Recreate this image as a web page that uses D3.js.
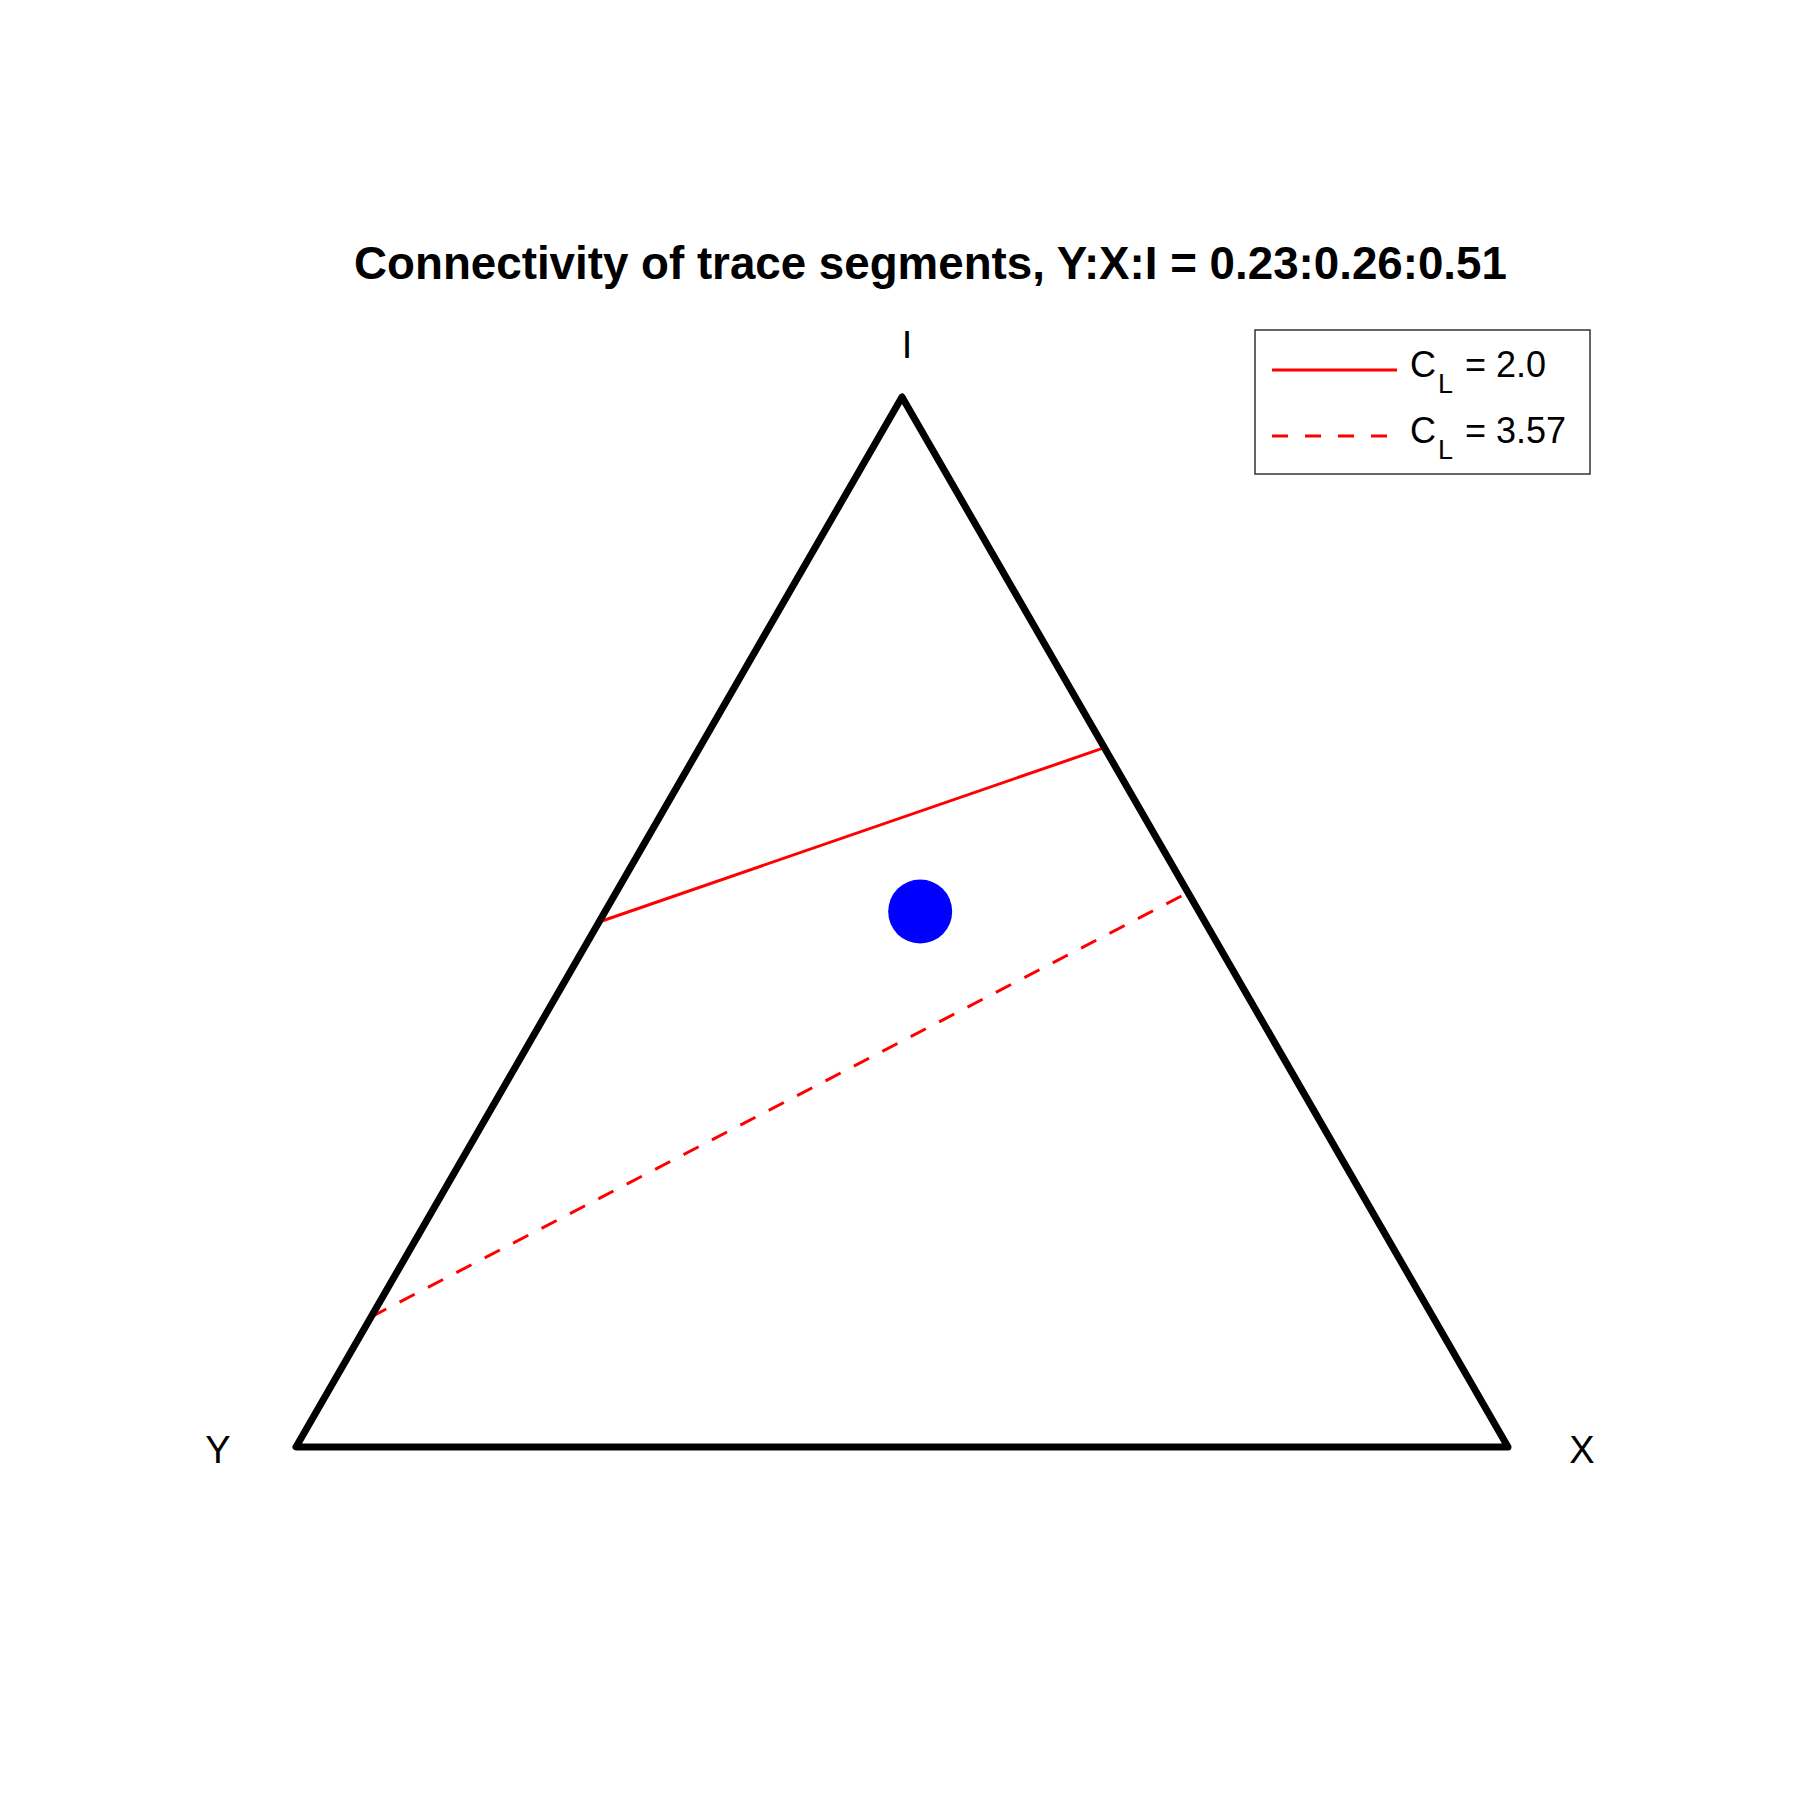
<!DOCTYPE html>
<html>
<head>
<meta charset="utf-8">
<script src="https://cdn.jsdelivr.net/npm/d3@7"></script>
<style>
  html, body { margin: 0; padding: 0; background: #fff; }
  svg { display: block; font-family: "Liberation Sans", Arial, Helvetica, sans-serif; }
</style>
</head>
<body>
<svg id="chart" width="1800" height="1800"></svg>
<script>
// ---- Data (ternary fractions: [Y, X, I]) ----
const vertexLabels = ["Y", "X", "I"];
const titleText = "Connectivity of trace segments, Y:X:I = 0.23:0.26:0.51";
const compositionPoint = [0.23, 0.26, 0.51];
const lineSolidCL2 = [[0.50, 0.00, 0.50], [0.00, 0.334, 0.666]];
const lineDashedCL357 = [[0.876, 0.00, 0.124], [0.00, 0.472, 0.528]];
const legendLabels = ["2.0", "3.57"];

const svg = d3.select("#chart");

// Cartesian scales: u in [0,1] along base, v in [0,1] height
const xScale = d3.scaleLinear().domain([0, 1]).range([296, 1508]);
const yScale = d3.scaleLinear().domain([0, 1]).range([1447, 397]);

function tern(p) {
  const [y, x, i] = p;
  const s = y + x + i;
  const u = (x + i / 2) / s;
  const v = i / s;
  return [xScale(u), yScale(v)];
}

const line = d3.line().x(d => tern(d)[0]).y(d => tern(d)[1]);

// data lines
svg.append("path").attr("d", line(lineSolidCL2))
  .attr("fill", "none").attr("stroke", "#ff0000").attr("stroke-width", 3);
svg.append("path").attr("d", line(lineDashedCL357))
  .attr("fill", "none").attr("stroke", "#ff0000").attr("stroke-width", 3)
  .attr("stroke-dasharray", "17,15");

// triangle
const verts = [[1, 0, 0], [0, 1, 0], [0, 0, 1]];
svg.append("path").attr("d", line(verts) + "Z")
  .attr("fill", "none").attr("stroke", "#000").attr("stroke-width", 7)
  .attr("stroke-linejoin", "round").attr("stroke-linecap", "round");

// point
const pc = tern(compositionPoint);
svg.append("circle").attr("cx", pc[0]).attr("cy", pc[1]).attr("r", 32).attr("fill", "#0000ff");

// vertex labels
const labelPos = [[218, 1463], [1582, 1463], [907, 358]];
vertexLabels.forEach((t, k) => {
  svg.append("text").attr("x", labelPos[k][0]).attr("y", labelPos[k][1])
    .attr("text-anchor", "middle").attr("font-size", 38).attr("fill", "#000").text(t);
});

// title
const title = svg.append("text").attr("x", 930.5).attr("y", 279)
  .attr("text-anchor", "middle").attr("font-size", 45).attr("font-weight", "bold")
  .attr("fill", "#000").text(titleText);
const tw = title.node().getComputedTextLength();
title.attr("font-size", 45 * 1153 / tw);

// legend
const lg = svg.append("g");
lg.append("rect").attr("x", 1255).attr("y", 330).attr("width", 335).attr("height", 144)
  .attr("fill", "#fff").attr("stroke", "#333").attr("stroke-width", 1.5);
const rows = [370, 436];
legendLabels.forEach((lab, k) => {
  const l = lg.append("line").attr("x1", 1272).attr("x2", 1397)
    .attr("y1", rows[k]).attr("y2", rows[k])
    .attr("stroke", "#ff0000").attr("stroke-width", 3);
  if (k === 1) l.attr("stroke-dasharray", "16,17");
  const t = lg.append("text").attr("x", 1410).attr("y", rows[k] + 7)
    .attr("font-size", 36).attr("fill", "#000");
  t.append("tspan").text("C");
  t.append("tspan").attr("font-size", 27).attr("dy", 16).attr("dx", 2).text("L");
  t.append("tspan").attr("dy", -16).attr("dx", 2).text(" = " + lab);
});
</script>
</body>
</html>
